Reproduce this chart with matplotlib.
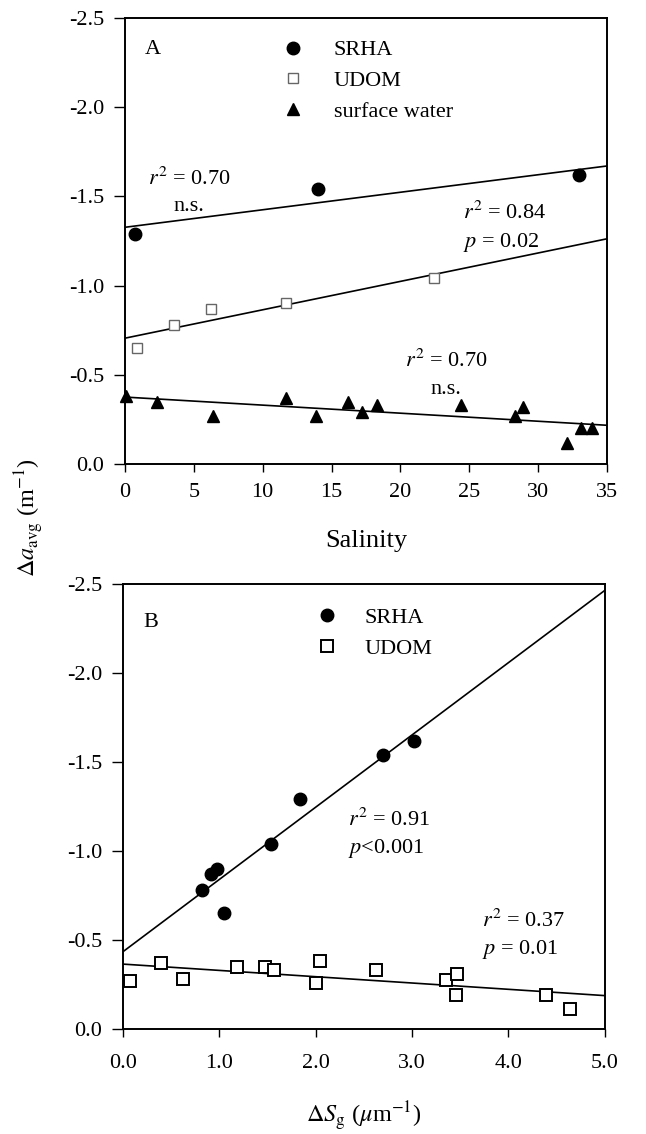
import numpy as np
import matplotlib
matplotlib.use("Agg")
import matplotlib.pyplot as plt

plt.rcParams['font.family'] = ['Liberation Serif', 'DejaVu Serif']
plt.rcParams['mathtext.fontset'] = 'stix'
plt.rcParams['axes.unicode_minus'] = False
plt.rcParams['font.size'] = 16

# ---- panel A : absorbance change vs salinity ----
sal_srha = [0.75, 14.0, 33.0]
da_srha = [-1.29, -1.54, -1.62]

sal_udom = [0.85, 3.56, 6.24, 11.67, 22.46]
da_udom = [-0.65, -0.78, -0.87, -0.90, -1.04]

sal_sw = [0.1, 2.3, 6.4, 11.7, 13.9, 16.2, 17.2, 18.3, 24.4, 28.3, 28.9, 32.1, 33.1, 33.9]
da_sw = [-0.38, -0.35, -0.27, -0.37, -0.27, -0.35, -0.29, -0.33, -0.33, -0.27, -0.32,
         -0.12, -0.20, -0.20]

# ---- panel B : absorbance change vs slope change ----
dsg_srha = [0.82, 0.92, 0.975, 1.05, 1.54, 1.84, 2.70, 3.02]
da_srha_b = [-0.78, -0.87, -0.90, -0.65, -1.04, -1.29, -1.54, -1.62]

dsg_udom = [0.076, 0.40, 0.63, 1.19, 1.48, 1.57, 2.01, 2.05, 2.63, 3.35, 3.47, 3.46, 4.39, 4.64]
da_udom_b = [-0.27, -0.37, -0.28, -0.35, -0.35, -0.33, -0.26, -0.38, -0.33, -0.275, -0.31,
             -0.19, -0.19, -0.11]

yticks = [0.0, -0.5, -1.0, -1.5, -2.0, -2.5]
ann = 16


def fit_line(ax, x, y, xmax):
    k, b = np.polyfit(x, y, 1)
    xx = np.array([0, xmax])
    ax.plot(xx, k * xx + b, color='black', lw=1.2, zorder=2)


def style(ax, xpad):
    for s in ax.spines.values():
        s.set_linewidth(1.4)
    ax.tick_params(axis='x', direction='out', length=6, width=1.0, pad=xpad, top=False)
    ax.tick_params(axis='y', direction='out', length=8, width=1.0, pad=7, right=False)
    ax.set_ylim(0, -2.5)
    ax.set_yticks(yticks)
    ax.set_yticklabels(['%.1f' % v for v in yticks])


fig = plt.figure(figsize=(6.46, 11.34), dpi=100)
axA = fig.add_axes([0.1935, 0.5908, 0.746, 0.3933])
axB = fig.add_axes([0.19, 0.0926, 0.746, 0.3924])

# panel A
fit_line(axA, sal_srha, da_srha, 35)
fit_line(axA, sal_udom, da_udom, 35)
fit_line(axA, sal_sw, da_sw, 35)
axA.plot(sal_srha, da_srha, 'o', ms=9, color='black', ls='none', clip_on=False,
         zorder=3, label='SRHA')
axA.plot(sal_udom, da_udom, 's', ms=7.5, mfc='white', mec='#666666', mew=1.0, ls='none',
         clip_on=False, zorder=3, label='UDOM')
axA.plot(sal_sw, da_sw, '^', ms=9, color='black', ls='none', clip_on=False, zorder=3,
         label='surface water')
style(axA, 8)
axA.set_xlim(0, 35)
axA.set_xticks(range(0, 36, 5))
axA.set_xlabel('Salinity', fontsize=19, labelpad=20)
axA.legend(loc='upper left', bbox_to_anchor=(0.302, 0.976), frameon=False, handlelength=1.0,
           handletextpad=1.35, labelspacing=0.45, borderpad=0, fontsize=ann)
axA.text(0.041, 0.93, 'A', transform=axA.transAxes, fontsize=ann, va='center')
axA.text(0.048, 0.627, r'$r^2$ = 0.70', transform=axA.transAxes, fontsize=ann, va='baseline')
axA.text(0.100, 0.568, 'n.s.', transform=axA.transAxes, fontsize=ann, va='baseline')
axA.text(0.701, 0.549, r'$r^2$ = 0.84', transform=axA.transAxes, fontsize=ann, va='baseline')
axA.text(0.701, 0.487, r'$p$ = 0.02', transform=axA.transAxes, fontsize=ann, va='baseline')
axA.text(0.581, 0.218, r'$r^2$ = 0.70', transform=axA.transAxes, fontsize=ann, va='baseline')
axA.text(0.633, 0.157, 'n.s.', transform=axA.transAxes, fontsize=ann, va='baseline')

# panel B
fit_line(axB, dsg_srha, da_srha_b, 5)
fit_line(axB, dsg_udom, da_udom_b, 5)
axB.plot(dsg_srha, da_srha_b, 'o', ms=9, color='black', ls='none', clip_on=False,
         zorder=3, label='SRHA')
axB.plot(dsg_udom, da_udom_b, 's', ms=8, mfc='white', mec='black', mew=1.4, ls='none',
         clip_on=False, zorder=3, label='UDOM')
style(axB, 12)
axB.set_xlim(0, 5)
axB.set_xticks(np.arange(0, 5.01, 1.0))
axB.set_xticklabels(['%.1f' % v for v in np.arange(0, 5.01, 1.0)])
axB.set_xlabel(r'$\Delta S_{\rm g}$ ($\mu$m$^{-1}$)', fontsize=17.5, labelpad=19)
axB.legend(loc='upper left', bbox_to_anchor=(0.377, 0.972), frameon=False, handlelength=1.0,
           handletextpad=1.2, labelspacing=0.45, borderpad=0, fontsize=ann)
axB.text(0.043, 0.914, 'B', transform=axB.transAxes, fontsize=ann, va='center')
axB.text(0.468, 0.456, r'$r^2$ = 0.91', transform=axB.transAxes, fontsize=ann, va='baseline')
axB.text(0.468, 0.396, r'$p$<0.001', transform=axB.transAxes, fontsize=ann, va='baseline')
axB.text(0.745, 0.229, r'$r^2$ = 0.37', transform=axB.transAxes, fontsize=ann, va='baseline')
axB.text(0.745, 0.169, r'$p$ = 0.01', transform=axB.transAxes, fontsize=ann, va='baseline')

fig.text(0.046, 0.544, r'$\Delta a_{\rm avg}$ (m$^{-1}$)', rotation=90, fontsize=17.5,
         ha='center', va='center')

fig.savefig('out.png', dpi=100)
